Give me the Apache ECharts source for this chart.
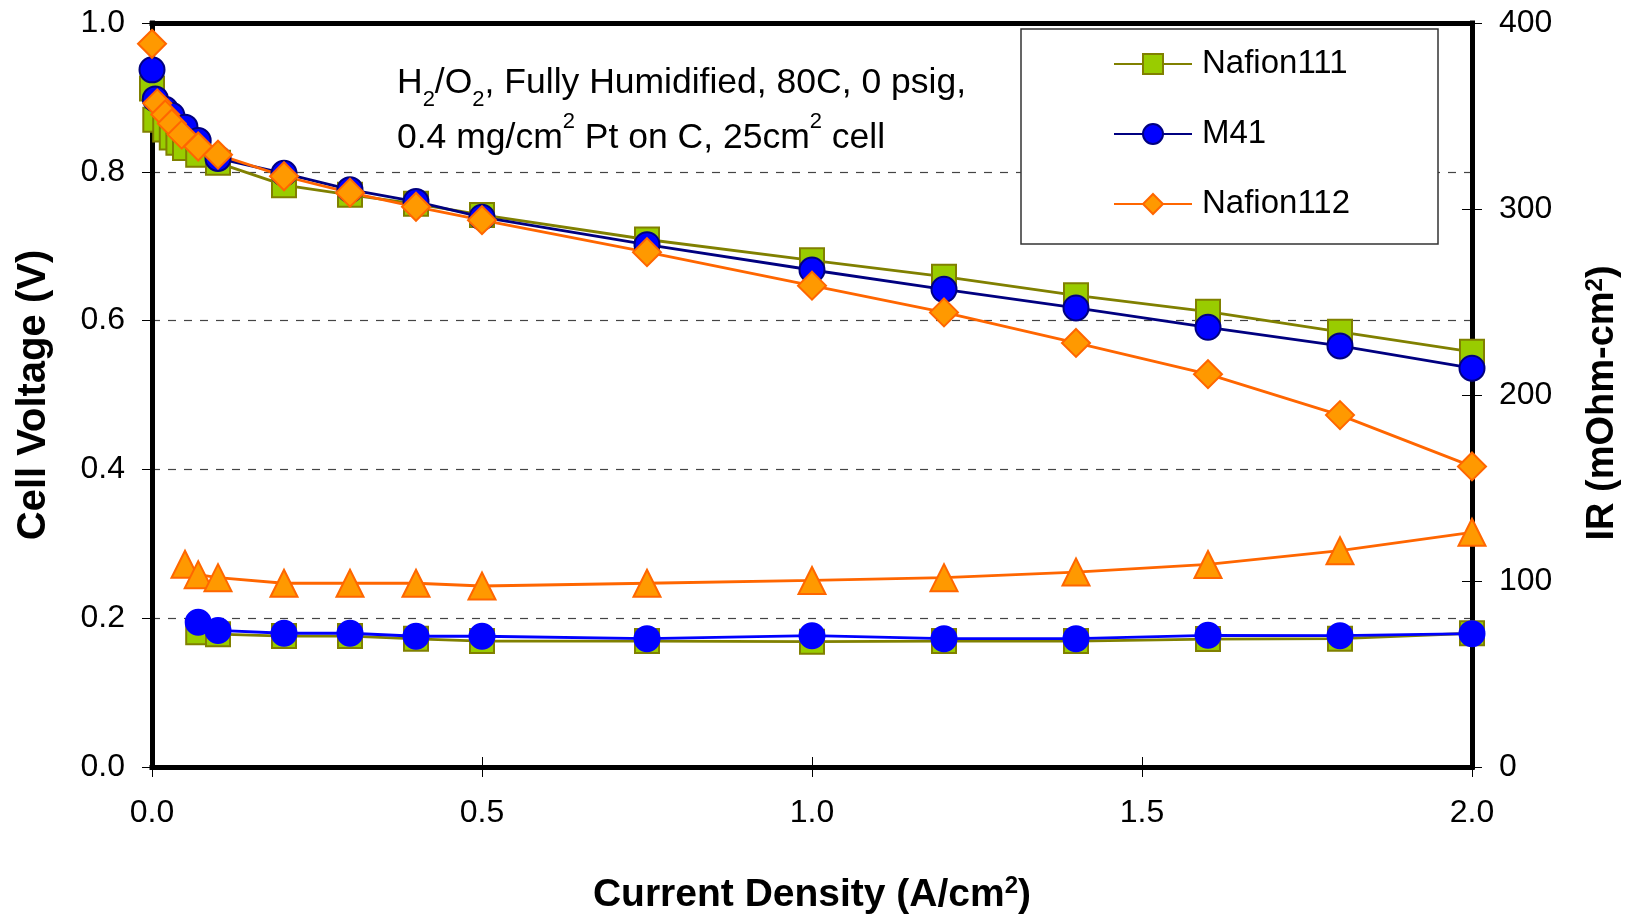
<!DOCTYPE html>
<html>
<head>
<meta charset="utf-8">
<title>Polarization and IR</title>
<script src="https://cdn.jsdelivr.net/npm/echarts@6/dist/echarts.min.js"></script>
<style>
  html, body { margin: 0; padding: 0; background: #fff; }
  #chart { width: 1637px; height: 914px; }
</style>
</head>
<body>
<div id="chart"></div>
<script>
// polarization data (cell voltage, V)
var n111X = [0, 0.005, 0.02, 0.03, 0.04, 0.05, 0.07, 0.1, 0.2, 0.3, 0.4, 0.5, 0.75, 1.0, 1.2, 1.4, 1.6, 1.8, 2.0];
var n111V = [0.912, 0.870, 0.857, 0.846, 0.839, 0.832, 0.823, 0.812, 0.782, 0.769, 0.757, 0.742, 0.709, 0.681, 0.659, 0.634, 0.612, 0.585, 0.558];

var m41X = [0, 0.005, 0.02, 0.03, 0.05, 0.07, 0.1, 0.2, 0.3, 0.4, 0.5, 0.75, 1.0, 1.2, 1.4, 1.6, 1.8, 2.0];
var m41V = [0.937, 0.898, 0.884, 0.876, 0.860, 0.842, 0.818, 0.798, 0.776, 0.760, 0.739, 0.702, 0.668, 0.642, 0.617, 0.591, 0.566, 0.536];

var n112X = [0, 0.008, 0.02, 0.03, 0.045, 0.07, 0.1, 0.2, 0.3, 0.4, 0.5, 0.75, 1.0, 1.2, 1.4, 1.6, 1.8, 2.0];
var n112V = [0.972, 0.892, 0.877, 0.865, 0.850, 0.834, 0.823, 0.794, 0.772, 0.753, 0.735, 0.692, 0.647, 0.611, 0.570, 0.528, 0.473, 0.404];

// IR data (mOhm-cm2), right axis
var irX = [0.07, 0.1, 0.2, 0.3, 0.4, 0.5, 0.75, 1.0, 1.2, 1.4, 1.6, 1.8, 2.0];
var n111IR = [72.5, 71.4, 70.4, 70.4, 68.9, 67.7, 67.7, 67.4, 67.7, 67.7, 68.8, 69.0, 71.9];
var m41IR = [77.8, 73.4, 71.9, 71.9, 70.3, 70.3, 69.0, 70.6, 69.0, 69.0, 70.8, 70.6, 71.7];
var n112IRX = [0.05, 0.07, 0.1, 0.2, 0.3, 0.4, 0.5, 0.75, 1.0, 1.2, 1.4, 1.6, 1.8, 2.0];
var n112IR = [109.0, 103.4, 101.8, 98.8, 98.8, 98.8, 97.3, 98.8, 100.3, 101.8, 104.8, 108.9, 116.3, 126.2];

var legendNames = ['Nafion111', 'M41', 'Nafion112'];

var FONT = '"Liberation Sans", Arial, sans-serif';

function pairs(xs, ys) {
  var out = [];
  for (var i = 0; i < xs.length; i++) out.push([xs[i], ys[i]]);
  return out;
}

function lineSeries(name, yIndex, data, symbol, size, lineColor, fill, border) {
  return {
    name: name,
    type: 'line',
    yAxisIndex: yIndex,
    data: data,
    symbol: symbol,
    symbolSize: size,
    showAllSymbol: true,
    clip: false,
    lineStyle: { color: lineColor, width: 2.8 },
    itemStyle: { color: fill, borderColor: border, borderWidth: 2 },
    emphasis: { disabled: true }
  };
}

// frame line of the plot (onZero off, otherwise it jumps to the other axis' zero)
var frameLine = { show: true, onZero: false, lineStyle: { color: '#000', width: 5, cap: 'square' } };
var noLine = { show: false, onZero: false };
var outTick = { show: true, inside: false, length: 10, lineStyle: { color: '#000', width: 1 } };
var inTick = { show: true, inside: true, length: 10, lineStyle: { color: '#000', width: 1 } };

var myChart = echarts.init(document.getElementById('chart'));

var option = {
  animation: false,
  backgroundColor: '#fff',
  textStyle: { fontFamily: FONT },
  title: {
    left: 397,
    top: 56,
    padding: 0,
    text: '{a|H}{sub|2}{a|/O}{sub|2}{a|, Fully Humidified, 80C, 0 psig,}\n' +
          '{a|0.4 mg/cm}{sup|2}{a| Pt on C, 25cm}{sup|2}{a| cell}',
    textStyle: {
      fontWeight: 'normal',
      rich: {
        a: { fontSize: 35.5, fontWeight: 'normal', fontFamily: FONT, color: '#000', lineHeight: 55 },
        sub: { fontSize: 22, fontWeight: 'normal', fontFamily: FONT, color: '#000', lineHeight: 35, verticalAlign: 'bottom' },
        sup: { fontSize: 22, fontWeight: 'normal', fontFamily: FONT, color: '#000', lineHeight: 37, verticalAlign: 'top' }
      }
    }
  },
  legend: {
    data: legendNames,
    orient: 'vertical',
    left: 1021,
    top: 29,
    padding: [17, 88, 22, 92],
    itemWidth: 78,
    itemHeight: 25,
    itemGap: 34,
    backgroundColor: '#fff',
    borderColor: '#333',
    borderWidth: 1.5,
    selectedMode: false,
    textStyle: { fontSize: 33, fontFamily: FONT, color: '#000', lineHeight: 36, padding: [0, 0, 0, 5] }
  },
  grid: {
    left: 152,
    right: 165,
    top: 23,
    bottom: 147,
    show: false,
    outerBoundsMode: 'none'
  },
  xAxis: [{
    type: 'value',
    position: 'bottom',
    min: 0,
    max: 2,
    interval: 0.5,
    axisLine: frameLine,
    axisTick: outTick,
    axisLabel: {
      margin: 30, fontSize: 32, fontFamily: FONT, color: '#000',
      formatter: function (v) { return v.toFixed(1); }
    },
    splitLine: { show: false },
    name: '{t|Current Density (A/cm}{s|2}{t|)}',
    nameLocation: 'middle',
    nameGap: 107,
    nameMoveOverlap: false,
    nameTextStyle: {
      rich: {
        t: { fontSize: 39, fontWeight: 'bold', fontFamily: FONT, color: '#000', lineHeight: 42 },
        s: { fontSize: 24, fontWeight: 'bold', fontFamily: FONT, color: '#000', lineHeight: 26, verticalAlign: 'top' }
      }
    }
  }, {
    // inner half of the crossing x ticks
    type: 'value',
    position: 'bottom',
    min: 0,
    max: 2,
    interval: 0.5,
    axisLine: noLine,
    axisTick: inTick,
    axisLabel: { show: false },
    splitLine: { show: false }
  }, {
    // top edge of the frame
    type: 'value',
    position: 'top',
    min: 0,
    max: 2,
    interval: 0.5,
    axisLine: frameLine,
    axisTick: { show: false },
    axisLabel: { show: false },
    splitLine: { show: false }
  }],
  yAxis: [{
    type: 'value',
    position: 'left',
    min: 0,
    max: 1,
    interval: 0.2,
    axisLine: frameLine,
    axisTick: outTick,
    axisLabel: {
      margin: 27, fontSize: 32, fontFamily: FONT, color: '#000',
      formatter: function (v) { return v.toFixed(1); }
    },
    splitLine: { show: true, lineStyle: { color: '#444', width: 1.2, type: [8, 8] } },
    name: 'Cell Voltage (V)',
    nameLocation: 'middle',
    nameGap: 97,
    nameMoveOverlap: false,
    nameTextStyle: { fontSize: 40, fontWeight: 'bold', fontFamily: FONT, color: '#000', lineHeight: 42 }
  }, {
    type: 'value',
    position: 'right',
    min: 0,
    max: 400,
    interval: 100,
    z: 3,
    axisLine: frameLine,
    axisTick: outTick,
    axisLabel: { margin: 27, fontSize: 32, fontFamily: FONT, color: '#000' },
    splitLine: { show: false },
    name: '{t|IR (mOhm-cm}{s|2}{t|)}',
    nameLocation: 'middle',
    nameGap: 111,
    nameMoveOverlap: false,
    nameTextStyle: {
      padding: [0, 16, 0, 0],
      rich: {
        t: { fontSize: 38, fontWeight: 'bold', fontFamily: FONT, color: '#000', lineHeight: 40 },
        s: { fontSize: 24, fontWeight: 'bold', fontFamily: FONT, color: '#000', lineHeight: 26, verticalAlign: 'top' }
      }
    }
  }, {
    // inner half of the crossing right ticks
    type: 'value',
    position: 'right',
    min: 0,
    max: 400,
    interval: 100,
    z: 3,
    axisLine: noLine,
    axisTick: inTick,
    axisLabel: { show: false },
    splitLine: { show: false }
  }],
  series: [
    lineSeries('Nafion111', 0, pairs(n111X, n111V), 'rect', 24, '#808000', '#99CC00', '#808000'),
    lineSeries('M41', 0, pairs(m41X, m41V), 'circle', 25, '#000080', '#0000FF', '#000080'),
    lineSeries('Nafion112', 0, pairs(n112X, n112V), 'diamond', 28, '#FF6600', '#FF9900', '#FF6600'),
    lineSeries('Nafion111 IR', 1, pairs(irX, n111IR), 'rect', 24, '#808000', '#99CC00', '#808000'),
    lineSeries('M41 IR', 1, pairs(irX, m41IR), 'circle', 25, '#0000FF', '#0000FF', '#0000FF'),
    lineSeries('Nafion112 IR', 1, pairs(n112IRX, n112IR), 'triangle', 27, '#FF6600', '#FF9900', '#FF6600')
  ]
};

myChart.setOption(option, true);
</script>
</body>
</html>
